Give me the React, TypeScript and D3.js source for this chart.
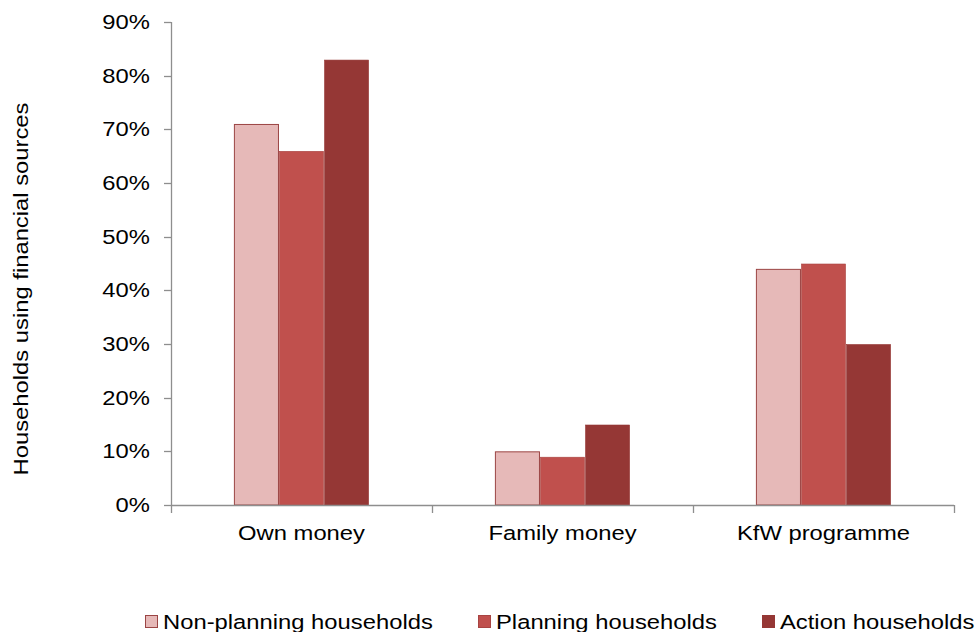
import React from "react";
import * as d3 from "d3";

// chart data
const categories = ["Own money", "Family money", "KfW programme"];
const seriesNames = ["Non-planning households", "Planning households", "Action households"];
const nonPlanning = [71, 10, 44];
const planning = [66, 9, 45];
const action = [83, 15, 30];
const yTicks = [0, 10, 20, 30, 40, 50, 60, 70, 80, 90];

const seriesValues = [nonPlanning, planning, action];
const fills = ["#E6B9B8", "#C0504D", "#953735"];
const strokes = ["#9B4544", "#A84442", "#953735"];

const W = 977;
const H = 632;
const FONT = "'Liberation Sans', Arial, sans-serif";
const STRETCH = 1.22; // text in the picture is a little wide

const App = () => {
  const svgRef = React.useRef<SVGSVGElement | null>(null);

  React.useEffect(() => {
    const svg = d3.select(svgRef.current);
    svg.selectAll("*").remove();

    const plot = { left: 171, right: 954, top: 22, bottom: 505 };

    const x = d3.scaleBand<string>().domain(categories).range([plot.left, plot.right]);
    const bw = x.bandwidth();
    const xInner = d3
      .scaleBand<string>()
      .domain(seriesNames)
      .range([bw * 0.241, bw * 0.759]);
    const y = d3.scaleLinear().domain([0, 90]).range([plot.bottom, plot.top]);

    // bars
    seriesNames.forEach((s, si) => {
      svg
        .append("g")
        .selectAll("rect")
        .data(categories)
        .enter()
        .append("rect")
        .attr("x", (c) => (x(c) as number) + (xInner(s) as number) + 0.5)
        .attr("y", (c, i) => y(seriesValues[si][i]) + 0.5)
        .attr("width", xInner.bandwidth() - 1)
        .attr("height", (c, i) => plot.bottom - y(seriesValues[si][i]) - 0.5)
        .style("fill", fills[si])
        .style("stroke", strokes[si])
        .style("stroke-width", si === 0 ? 1 : 0.6);
    });

    const axisColor = "#8E8E8E";

    // y axis
    svg
      .append("line")
      .attr("x1", plot.left + 0.5)
      .attr("x2", plot.left + 0.5)
      .attr("y1", plot.top)
      .attr("y2", plot.bottom)
      .style("stroke", axisColor)
      .style("stroke-width", 1.3);
    const yt = svg.append("g").selectAll("g").data(yTicks).enter().append("g");
    yt.append("line")
      .attr("x1", plot.left - 7)
      .attr("x2", plot.left)
      .attr("y1", (d) => Math.round(y(d)) + 0.5)
      .attr("y2", (d) => Math.round(y(d)) + 0.5)
      .style("stroke", axisColor)
      .style("stroke-width", 1.3);
    yt.append("text")
      .attr("transform", (d) => `translate(150, ${y(d) + 7}) scale(${STRETCH},1)`)
      .attr("text-anchor", "end")
      .style("font-family", FONT)
      .style("font-size", "19.5px")
      .style("fill", "#000")
      .text((d) => `${d}%`);

    // x axis
    svg
      .append("line")
      .attr("x1", plot.left)
      .attr("x2", plot.right)
      .attr("y1", plot.bottom + 0.5)
      .attr("y2", plot.bottom + 0.5)
      .style("stroke", axisColor)
      .style("stroke-width", 1.3);
    const xEdges = categories.map((c) => x(c) as number).concat([plot.right]);
    svg
      .append("g")
      .selectAll("line")
      .data(xEdges)
      .enter()
      .append("line")
      .attr("x1", (d) => Math.round(d) + 0.5)
      .attr("x2", (d) => Math.round(d) + 0.5)
      .attr("y1", plot.bottom)
      .attr("y2", plot.bottom + 8)
      .style("stroke", axisColor)
      .style("stroke-width", 1.3);
    svg
      .append("g")
      .selectAll("text")
      .data(categories)
      .enter()
      .append("text")
      .attr(
        "transform",
        (c) => `translate(${(x(c) as number) + bw / 2}, 540) scale(${STRETCH},1)`
      )
      .attr("text-anchor", "middle")
      .style("font-family", FONT)
      .style("font-size", "19.5px")
      .style("fill", "#000")
      .text((c) => c);

    // y axis title
    svg
      .append("text")
      .attr("transform", `translate(28, 289) rotate(-90) scale(${STRETCH},1)`)
      .attr("text-anchor", "middle")
      .style("font-family", FONT)
      .style("font-size", "19.5px")
      .style("fill", "#000")
      .text("Households using financial sources");

    // legend
    const legendX = [145, 478, 762];
    const lg = svg
      .append("g")
      .selectAll("g")
      .data(seriesNames)
      .enter()
      .append("g")
      .attr("transform", (d, i) => `translate(${legendX[i]}, 615)`);
    lg.append("rect")
      .attr("x", 0.5)
      .attr("y", 0.5)
      .attr("width", 12)
      .attr("height", 12)
      .style("fill", (d, i) => fills[i])
      .style("stroke", (d, i) => strokes[i])
      .style("stroke-width", 1);
    lg.append("text")
      .attr("transform", `translate(18, 13.5) scale(${STRETCH},1)`)
      .style("font-family", FONT)
      .style("font-size", "19.5px")
      .style("fill", "#000")
      .text((d) => d);
  }, []);

  return (
    <svg
      ref={svgRef}
      width={W}
      height={H}
      style={{ position: "absolute", left: 0, top: 0, background: "#fff" }}
    />
  );
};

export default App;
